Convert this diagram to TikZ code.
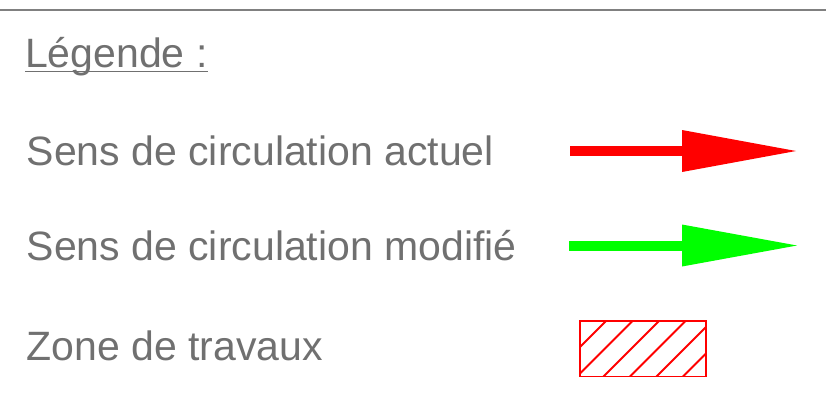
\documentclass[tikz,border=0pt]{standalone}
\usepackage{fontspec}
\setmainfont{Liberation Sans}
\definecolor{txtgray}{RGB}{112,112,112}
\definecolor{rulegray}{RGB}{128,128,128}
\definecolor{legred}{RGB}{255,0,0}
\definecolor{leggreen}{RGB}{0,255,0}
\tikzset{
  lbl/.style={anchor=base west, inner sep=0pt, text=txtgray, font=\fontsize{41}{44}\selectfont},
  hatch/.style={draw=legred, line width=1.8pt},
}
\begin{document}
\begin{tikzpicture}[x=1pt,y=-1pt]
\useasboundingbox (0,0) rectangle (826,405);
% top rule
\coordinate (rl) at (0,9.5);
\coordinate (rr) at (826,9.5);
\draw[rulegray, line width=2pt] (rl) -- (rr);
% title
\node[lbl] (title) at (25,67) {Légende :};
\coordinate (ul) at (25,71.5);
\coordinate (ur) at (207.5,71.5);
\draw[txtgray, line width=1.6pt] (ul) -- (ur);
% labels
\node[lbl] (l1) at (26.5,165) {Sens de circulation actuel};
\node[lbl] (l2) at (26.5,260) {Sens de circulation modifié};
\node[lbl] (l3) at (26.5,360) {Zone de travaux};
% red arrow
\fill[legred] (570,146) rectangle (684,156);
\fill[legred] (682,130) -- (796,151) -- (682,172) -- cycle;
% green arrow
\fill[leggreen] (569,240.5) rectangle (684,250.5);
\fill[leggreen] (682,224.5) -- (797,245.5) -- (682,266.5) -- cycle;
% hatched zone
\begin{scope}
  \clip (580,321) rectangle (706,376.5);
  \foreach \c in {927,953.5,980,1006.5,1033,1059.5} {
    \draw[hatch] (\c-300,300) -- (\c-400,400);
  }
\end{scope}
\draw[hatch] (580,321) rectangle (706,376.5);
\end{tikzpicture}
\end{document}
